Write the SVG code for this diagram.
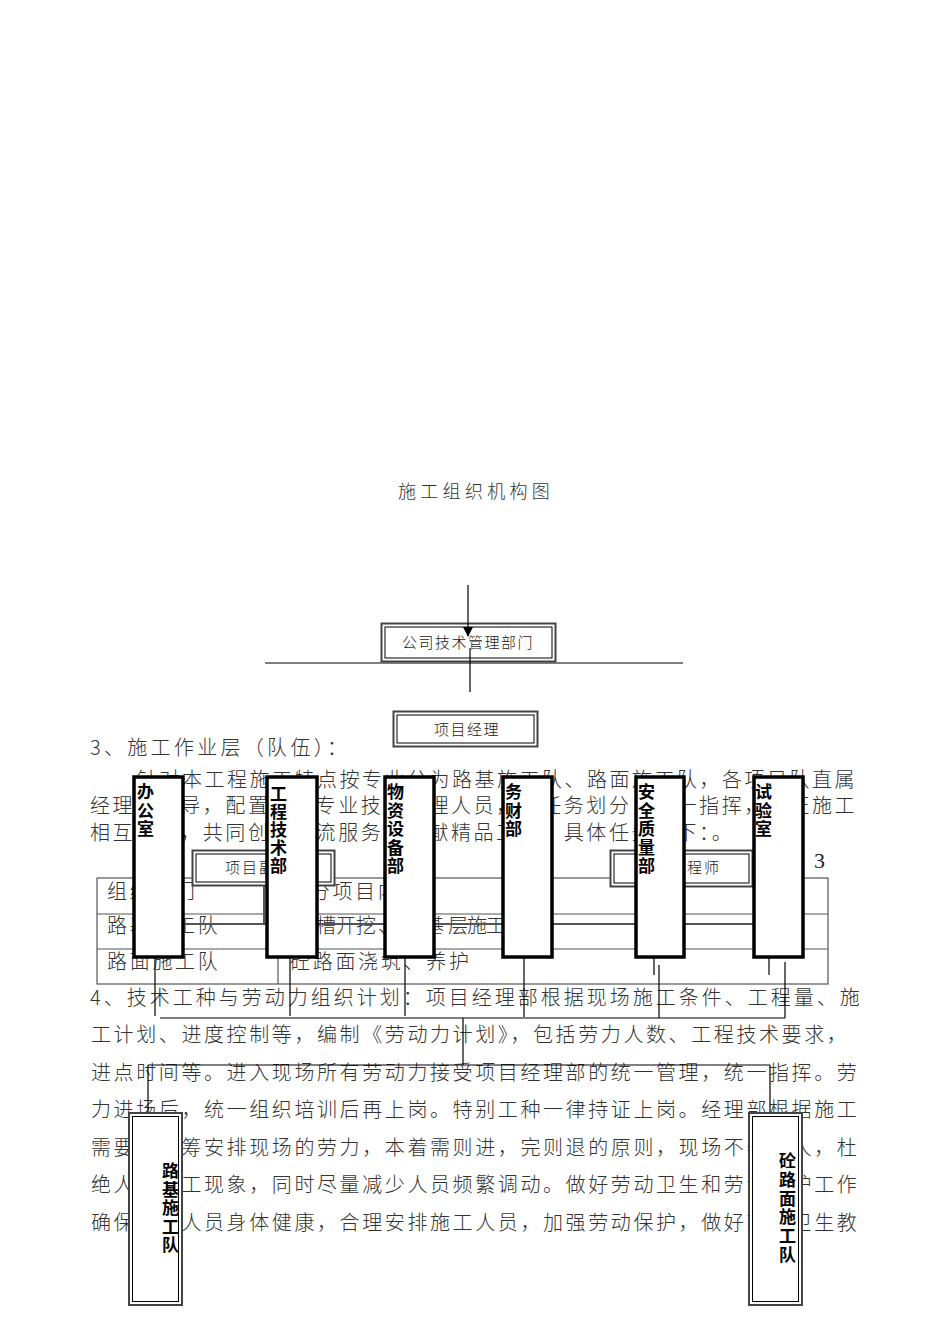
<svg xmlns="http://www.w3.org/2000/svg" width="950" height="1344" viewBox="0 0 950 1344">
<style>
.body{font-family:"Noto Sans CJK SC","Noto Sans",sans-serif;font-size:20px;fill:#333;font-weight:300}
.lbl{font-family:"Noto Sans CJK SC","Noto Sans",sans-serif;font-size:15px;fill:#222;font-weight:300;letter-spacing:1.5px}
.dept{font-family:"Noto Sans CJK SC","Noto Sans",sans-serif;font-size:17px;font-weight:bold;fill:#000}
.team{font-family:"Noto Sans CJK SC","Noto Sans",sans-serif;font-size:17px;font-weight:bold;fill:#000}
.ln{stroke:#000;stroke-width:1.2;fill:none}
.gl{stroke:#555;stroke-width:2;fill:none}
.tb{stroke:#555;stroke-width:1.2;fill:none}
.o{fill:#fff;stroke:#444;stroke-width:2}
.i{fill:none;stroke:#000;stroke-width:1}
.bd{fill:#fff;stroke:#000;stroke-width:3.5}
</style>
<defs>
<marker id="ah" markerWidth="10" markerHeight="10" refX="9" refY="5" orient="auto" markerUnits="userSpaceOnUse">
<path d="M0,0 L10,5 L0,10 z" fill="#000"/>
</marker>
</defs>

<!-- title and body text -->
<g id="text">
<text x="398" y="498" class="body" style="font-size:18px;letter-spacing:4.3px">施工组织机构图</text>
<text x="90" y="755" class="body" style="letter-spacing:3.3px">3、施工作业层（队伍）：</text>
<text x="137" y="787" class="body" style="letter-spacing:2.5px">针对本工程施工特点按专业分为路基施工队、路面施工队，各项目队直属</text>
<text x="90" y="813" class="body" style="letter-spacing:2.56px">经理部领导，配置相应专业技术管理人员，将任务划分，统一指挥，保证施工</text>
<text x="90" y="840" class="body" style="letter-spacing:2.56px">相互配合，共同创造一流服务，奉献精品工程。具体任务如下：。</text>
<text x="814" y="868" style="font-family:'Liberation Serif',serif;font-size:22px;fill:#222">3</text>

<text x="107" y="899" class="body" style="letter-spacing:2.7px">组织部门</text>
<text x="287" y="899" class="body" style="letter-spacing:2.7px">划分项目内容</text>
<text x="107" y="933" class="body" style="letter-spacing:2.7px">路基施工队</text>
<text x="296 316 336 356 378 400 424 448 467 486" y="933" class="body">路槽开挖、底基层施工</text>
<text x="107" y="969" class="body" style="letter-spacing:2.7px">路面施工队</text>
<text x="290" y="969" class="body" style="letter-spacing:2.7px">砼路面浇筑、养护</text>

<text x="90" y="1005" class="body" style="letter-spacing:3px">4、技术工种与劳动力组织计划：项目经理部根据现场施工条件、工程量、施</text>
<text x="91" y="1042" class="body" style="letter-spacing:2.6px">工计划、进度控制等，编制《劳动力计划》，包括劳力人数、工程技术要求，</text>
<text x="91" y="1080" class="body" style="letter-spacing:2.6px">进点时间等。进入现场所有劳动力接受项目经理部的统一管理，统一指挥。劳</text>
<text x="91" y="1117" class="body" style="letter-spacing:2.6px">力进场后，统一组织培训后再上岗。特别工种一律持证上岗。经理部根据施工</text>
<text x="91" y="1155" class="body" style="letter-spacing:2.6px">需要，统筹安排现场的劳力，本着需则进，完则退的原则，现场不养闲人，杜</text>
<text x="91" y="1192" class="body" style="letter-spacing:2.6px">绝人员窝工现象，同时尽量减少人员频繁调动。做好劳动卫生和劳动保护工作</text>
<text x="91" y="1230" class="body" style="letter-spacing:2.6px">确保施工人员身体健康，合理安排施工人员，加强劳动保护，做好劳动卫生教</text>
</g>

<!-- table -->
<g id="table">
<rect x="97" y="878" width="731" height="106" class="tb"/>
<line x1="97" y1="914" x2="828" y2="914" class="tb"/>
<line x1="97" y1="949" x2="828" y2="949" class="tb"/>
<line x1="278" y1="878" x2="278" y2="984" class="tb"/>
</g>

<!-- connectors -->
<g id="connectors">
<line x1="468" y1="585" x2="468" y2="636" class="ln" marker-end="url(#ah)"/>
<line x1="265" y1="663" x2="683" y2="663" class="ln"/>
<line x1="264" y1="886" x2="264" y2="924" class="gl"/>
<line x1="160" y1="924" x2="753" y2="924" class="gl"/>
<line x1="155" y1="957" x2="155" y2="1016" class="ln"/>
<line x1="290" y1="957" x2="290" y2="1016" class="ln"/>
<line x1="405" y1="957" x2="405" y2="1016" class="ln"/>
<line x1="524" y1="957" x2="524" y2="1017" class="ln"/>
<line x1="654" y1="957" x2="654" y2="975" class="ln"/>
<line x1="659" y1="965" x2="659" y2="1018" class="ln"/>
<line x1="769" y1="957" x2="769" y2="975" class="ln"/>
<line x1="785" y1="962" x2="785" y2="1018" class="ln"/>
<line x1="160" y1="1018" x2="785" y2="1018" class="ln"/>
<line x1="463" y1="1018" x2="463" y2="1065" class="ln"/>
<line x1="148" y1="1065" x2="770" y2="1065" class="ln"/>
<line x1="148" y1="1065" x2="148" y2="1112" class="ln"/>
<line x1="770" y1="1065" x2="770" y2="1112" class="ln"/>
</g>

<!-- top boxes -->
<g id="node-company">
<rect x="381.5" y="623.5" width="174" height="38" class="o"/>
<rect x="385" y="627" width="167" height="31" class="i"/>
<text x="402" y="648" class="lbl">公司技术管理部门</text>
</g>
<g id="connectors-over">
<line x1="470" y1="648" x2="470" y2="692" class="ln"/>
<line x1="468" y1="623" x2="468" y2="636" class="ln" marker-end="url(#ah)"/>
</g>
<g id="node-pm">
<rect x="393.5" y="711.5" width="144" height="35" class="o"/>
<rect x="397" y="715" width="137" height="28" class="i"/>
<text x="434" y="735" class="lbl">项目经理</text>
</g>
<g id="node-deputy">
<rect x="192.5" y="850.5" width="142" height="35" class="o"/>
<rect x="196" y="854" width="135" height="28" class="i"/>
<text x="225" y="873" class="lbl" style="letter-spacing:2px">项目副经理</text>
</g>
<g id="node-chief">
<rect x="610.5" y="850.5" width="142" height="36" class="o"/>
<rect x="614" y="854" width="135" height="29" class="i"/>
<text x="653" y="873" class="lbl" style="letter-spacing:2px">总工程师</text>
</g>

<!-- department boxes -->
<g id="node-office">
<rect x="134" y="777" width="49" height="180" class="bd"/>
<text class="dept"><tspan x="137" y="798">办</tspan><tspan x="137" y="816.5">公</tspan><tspan x="137" y="835">室</tspan></text>
</g>
<g id="node-tech">
<rect x="267" y="777" width="50" height="180" class="bd"/>
<text class="dept"><tspan x="270" y="800">工</tspan><tspan x="270" y="818">程</tspan><tspan x="270" y="836">技</tspan><tspan x="270" y="854">术</tspan><tspan x="270" y="872">部</tspan></text>
</g>
<g id="node-material">
<rect x="385" y="777" width="49" height="180" class="bd"/>
<text class="dept"><tspan x="387" y="798">物</tspan><tspan x="387" y="816.5">资</tspan><tspan x="387" y="835">设</tspan><tspan x="387" y="853.5">备</tspan><tspan x="387" y="872">部</tspan></text>
</g>
<g id="node-finance">
<rect x="503" y="777" width="49" height="180" class="bd"/>
<text class="dept"><tspan x="505" y="798">务</tspan><tspan x="505" y="816.5">财</tspan><tspan x="505" y="835">部</tspan></text>
</g>
<g id="node-safety">
<rect x="636" y="777" width="48" height="180" class="bd"/>
<text class="dept"><tspan x="638" y="798">安</tspan><tspan x="638" y="816.5">全</tspan><tspan x="638" y="835">质</tspan><tspan x="638" y="853.5">量</tspan><tspan x="638" y="872">部</tspan></text>
</g>
<g id="node-lab">
<rect x="754" y="777" width="49" height="180" class="bd"/>
<text class="dept"><tspan x="755" y="798">试</tspan><tspan x="755" y="816.5">验</tspan><tspan x="755" y="835">室</tspan></text>
</g>

<!-- team boxes -->
<g id="node-subgrade">
<rect x="129" y="1113" width="53" height="192" class="o"/>
<rect x="132.5" y="1116.5" width="46" height="185" class="i"/>
<text class="team"><tspan x="162" y="1177">路</tspan><tspan x="162" y="1195.6">基</tspan><tspan x="162" y="1214.2">施</tspan><tspan x="162" y="1232.8">工</tspan><tspan x="162" y="1251.4">队</tspan></text>
</g>
<g id="node-pavement">
<rect x="749" y="1113" width="53" height="192" class="o"/>
<rect x="752.5" y="1116.5" width="46" height="185" class="i"/>
<text class="team"><tspan x="779" y="1167">砼</tspan><tspan x="779" y="1185.8">路</tspan><tspan x="779" y="1204.6">面</tspan><tspan x="779" y="1223.4">施</tspan><tspan x="779" y="1242.2">工</tspan><tspan x="779" y="1261">队</tspan></text>
</g>
</svg>
